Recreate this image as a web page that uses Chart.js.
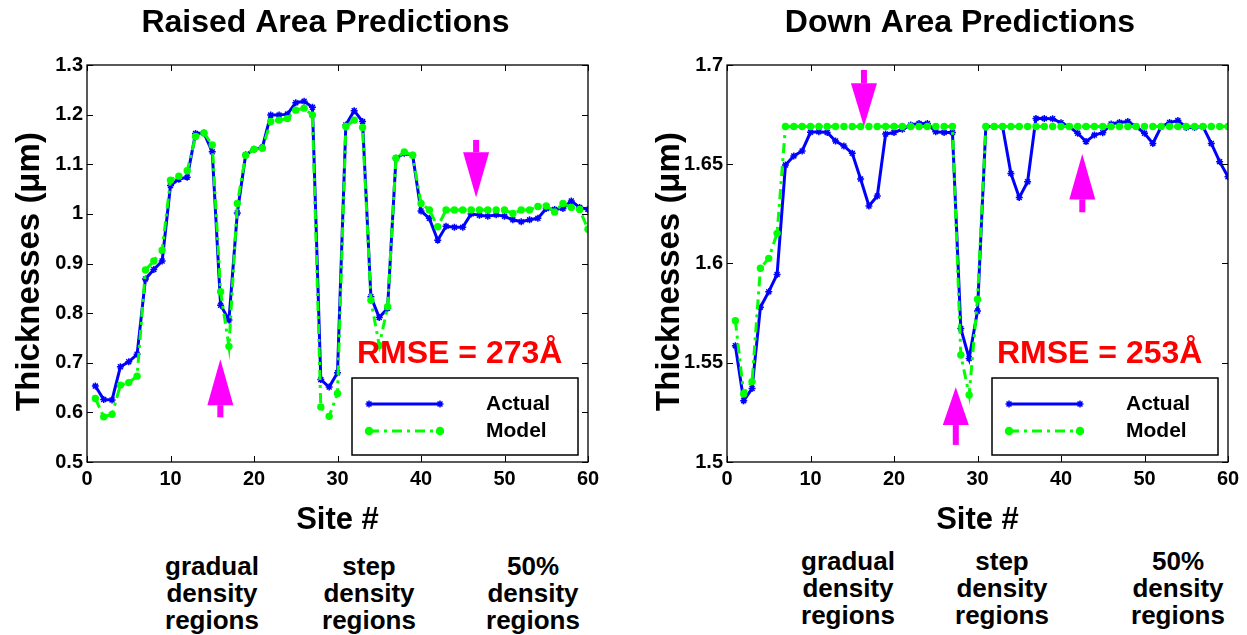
<!DOCTYPE html>
<html><head><meta charset="utf-8">
<script src="https://cdn.jsdelivr.net/npm/chart.js@4.4.0/dist/chart.umd.min.js"></script>
<style>
html,body{margin:0;padding:0;background:#fff;overflow:hidden;width:1247px;height:635px;}
#c1{position:absolute;left:0;top:0;}
#c2{position:absolute;left:640px;top:0;}
.reg{position:absolute;font:bold 26px "Liberation Sans",Arial,sans-serif;text-align:center;line-height:27px;width:170px;color:#000;}
</style></head><body>
<canvas id="c1" width="651" height="545" style="width:651px;height:545px"></canvas>
<canvas id="c2" width="640" height="545" style="width:640px;height:545px"></canvas>
<div class="reg" style="left:127px;top:553px">gradual<br>density<br>regions</div>
<div class="reg" style="left:284px;top:553px">step<br>density<br>regions</div>
<div class="reg" style="left:448px;top:553px">50%<br>density<br>regions</div>
<div class="reg" style="left:763px;top:548px">gradual<br>density<br>regions</div>
<div class="reg" style="left:917px;top:548px">step<br>density<br>regions</div>
<div class="reg" style="left:1093px;top:548px">50%<br>density<br>regions</div>
<script>
// ---------- DATA ----------
const sites = [1,2,3,4,5,6,7,8,9,10,11,12,13,14,15,16,17,18,19,20,21,22,23,24,25,26,27,28,29,30,
               31,32,33,34,35,36,37,38,39,40,41,42,43,44,45,46,47,48,49,50,51,52,53,54,55,56,57,58,59,60];

const raisedActual = [0.653,0.626,0.625,0.692,0.702,0.717,0.869,0.888,0.905,1.057,
                      1.070,1.074,1.162,1.163,1.125,0.816,0.786,1.002,1.119,1.130,
                      1.134,1.199,1.199,1.201,1.224,1.227,1.215,0.666,0.651,0.680,
                      1.179,1.208,1.186,0.833,0.791,0.810,1.112,1.122,1.118,1.006,
                      0.991,0.947,0.975,0.973,0.973,1.000,0.997,0.995,0.998,0.995,
                      0.988,0.984,0.988,0.991,1.011,1.009,1.011,1.026,1.013,1.009];
const raisedModel  = [0.628,0.591,0.596,0.655,0.660,0.673,0.887,0.905,0.927,1.068,
                      1.076,1.087,1.156,1.163,1.139,0.843,0.733,1.021,1.118,1.130,
                      1.132,1.186,1.189,1.192,1.209,1.213,1.199,0.611,0.592,0.638,
                      1.176,1.189,1.174,0.826,0.735,0.813,1.112,1.125,1.118,1.021,
                      1.008,0.974,1.008,1.008,1.008,1.008,1.008,1.008,1.008,1.008,
                      1.001,1.008,1.008,1.015,1.016,1.004,1.021,1.013,1.009,0.969];

const downActual = [1.5586,1.5309,1.5370,1.5780,1.5858,1.5945,1.6496,1.6542,1.6567,1.6661,
                    1.6664,1.6660,1.6617,1.6592,1.6555,1.6426,1.6290,1.6340,1.6652,1.6660,
                    1.6676,1.6698,1.6705,1.6705,1.6664,1.6660,1.6660,1.5673,1.5522,1.5761,
                    1.6690,1.6690,1.6690,1.6454,1.6332,1.6412,1.6731,1.6730,1.6729,1.6709,
                    1.6690,1.6656,1.6614,1.6647,1.6659,1.6703,1.6710,1.6715,1.6690,1.6656,
                    1.6605,1.6690,1.6710,1.6720,1.6685,1.6685,1.6690,1.6605,1.6513,1.6437];
const downModel  = [1.5712,1.5343,1.5405,1.5976,1.6026,1.6152,1.669,1.669,1.669,1.669,
                    1.669,1.669,1.669,1.669,1.669,1.669,1.669,1.669,1.669,1.669,
                    1.669,1.669,1.669,1.669,1.669,1.669,1.669,1.5539,1.5338,1.5820,
                    1.669,1.669,1.669,1.669,1.669,1.669,1.669,1.669,1.669,1.669,
                    1.669,1.669,1.669,1.669,1.669,1.669,1.669,1.669,1.669,1.669,
                    1.669,1.669,1.669,1.669,1.669,1.669,1.669,1.669,1.669,1.669];

const xTickValues = [0,10,20,30,40,50,60];
const xTickLabels = ['0','10','20','30','40','50','60'];
const raisedYTickValues = [0.5,0.6,0.7,0.8,0.9,1.0,1.1,1.2,1.3];
const raisedYTickLabels = ['0.5','0.6','0.7','0.8','0.9','1','1.1','1.2','1.3'];
const downYTickValues = [1.5,1.55,1.6,1.65,1.7];
const downYTickLabels = ['1.5','1.55','1.6','1.65','1.7'];

// arrows: [site, tip value, head-base value, tail value]
const raisedArrows = [[15.97,0.707,0.6145,0.590],[46.6,1.033,1.124,1.149]];
const downArrows   = [[16.4,1.669,1.6908,1.6975],[27.4,1.5376,1.5186,1.5086],[42.55,1.6552,1.6323,1.6258]];

const raisedTitle = 'Raised Area Predictions';
const downTitle = 'Down Area Predictions';
const yAxisTitle = 'Thicknesses (μm)';
const xAxisTitle = 'Site #';
const raisedRMSE = 'RMSE = 273Å';
const downRMSE = 'RMSE = 253Å';
const seriesNames = ['Actual','Model'];

// ---------- RENDER ----------
const FONT = '"Liberation Sans", Arial, Helvetica, sans-serif';
Chart.defaults.font.family = FONT;
const BLUE = '#0000ff', GREEN = '#00ff00', MAGENTA = '#ff00ff';
const DASH = [10,5,3,5];

const decor = {
  id: 'decor',
  afterDraw(chart, args, o) {
    const {ctx, chartArea: a, scales: {x, y}} = chart;
    ctx.save();
    // y-axis title
    ctx.save();
    ctx.translate(30, (a.top + a.bottom) / 2 + 8);
    ctx.rotate(-Math.PI / 2);
    ctx.fillStyle = '#000'; ctx.font = 'bold 33px ' + FONT;
    ctx.textAlign = 'center'; ctx.textBaseline = 'middle';
    ctx.fillText(yAxisTitle, 0, 0);
    ctx.restore();
    // arrows
    ctx.fillStyle = MAGENTA;
    o.arrows.forEach(([s, tip, base, tail]) => {
      const px = x.getPixelForValue(s);
      const ty = y.getPixelForValue(tip), by = y.getPixelForValue(base), ly = y.getPixelForValue(tail);
      ctx.beginPath();
      ctx.moveTo(px - 13, by); ctx.lineTo(px + 13, by); ctx.lineTo(px, ty); ctx.closePath(); ctx.fill();
      ctx.fillRect(px - 3, Math.min(by, ly), 6, Math.abs(ly - by));
    });
    // box + inward ticks
    ctx.strokeStyle = '#000'; ctx.lineWidth = 1.3;
    ctx.strokeRect(a.left, a.top, a.right - a.left, a.bottom - a.top);
    ctx.lineWidth = 1;
    ctx.beginPath();
    y.ticks.forEach(t => {
      const py = Math.round(y.getPixelForValue(t.value)) + 0.5;
      ctx.moveTo(a.left, py); ctx.lineTo(a.left + 6, py);
      ctx.moveTo(a.right - 6, py); ctx.lineTo(a.right, py);
    });
    x.ticks.forEach(t => {
      const px = Math.round(x.getPixelForValue(t.value)) + 0.5;
      ctx.moveTo(px, a.bottom); ctx.lineTo(px, a.bottom - 6);
      ctx.moveTo(px, a.top); ctx.lineTo(px, a.top + 6);
    });
    ctx.stroke();
    // RMSE
    ctx.fillStyle = '#ff0000';
    ctx.font = 'bold 32px ' + FONT;
    ctx.textBaseline = 'middle'; ctx.textAlign = 'left';
    ctx.fillText(o.rmse, a.left + 270, a.top + 289);
    // legend
    const bx = a.right - 236, by0 = a.bottom - 84, bw = 226, bh = 77;
    ctx.fillStyle = '#fff'; ctx.fillRect(bx, by0, bw, bh);
    ctx.strokeStyle = '#000'; ctx.lineWidth = 1.5; ctx.strokeRect(bx, by0, bw, bh);
    const rows = [[BLUE, [], 'star', 26], [GREEN, DASH, 'circle', 53]];
    rows.forEach(([c, dash, ps, dy], i) => {
      const yy = by0 + dy;
      ctx.strokeStyle = c; ctx.fillStyle = c; ctx.lineWidth = 3; ctx.setLineDash(dash);
      ctx.beginPath(); ctx.moveTo(bx + 17, yy); ctx.lineTo(bx + 88, yy); ctx.stroke();
      ctx.setLineDash([]); ctx.lineWidth = 1.5;
      [bx + 17, bx + 88].forEach(px => Chart.helpers.drawPoint(ctx, {pointStyle: ps, radius: 3.5, rotation: 0, borderWidth: 1.5}, px, yy));
      ctx.fillStyle = '#000'; ctx.font = 'bold 21px ' + FONT; ctx.textAlign = 'left';
      ctx.fillText(seriesNames[i], bx + 134, yy);
    });
    ctx.restore();
  }
};

function makeChart(id, title, actual, model, yMin, yMax, yVals, yLabels, rmse, arrows, padRight) {
  new Chart(document.getElementById(id), {
    type: 'line',
    data: {
      datasets: [
        {label: seriesNames[0], data: sites.map((s, i) => ({x: s, y: actual[i]})),
         borderColor: BLUE, backgroundColor: BLUE, borderWidth: 3, tension: 0,
         pointStyle: 'star', pointRadius: 3.5, pointBorderWidth: 1.5, pointBorderColor: BLUE, order: 1},
        {label: seriesNames[1], data: sites.map((s, i) => ({x: s, y: model[i]})),
         borderColor: GREEN, backgroundColor: GREEN, borderWidth: 3, borderDash: DASH, tension: 0,
         pointStyle: 'circle', pointRadius: 3.7, pointBorderWidth: 0, order: 0}
      ]
    },
    options: {
      responsive: false, animation: false, devicePixelRatio: 1,
      layout: {padding: 0},
      plugins: {
        legend: {display: false}, tooltip: {enabled: false},
        title: {display: true, text: title, color: '#000', font: {size: 32, weight: 'bold'}, padding: {top: 4, bottom: 22.6}},
        decor: {rmse: rmse, arrows: arrows}
      },
      scales: {
        x: {type: 'linear', min: 0, max: 60,
            afterBuildTicks: s => { s.ticks = xTickValues.map(v => ({value: v})); },
            afterFit: s => { s.height = 83; },
            ticks: {callback: (v, i) => xTickLabels[i], color: '#000', font: {size: 20, weight: 'bold'}, padding: 5, maxRotation: 0},
            grid: {display: false, drawTicks: false}, border: {display: false},
            title: {display: true, text: xAxisTitle, color: '#000', font: {size: 31, weight: 'bold'}, padding: {top: 0, bottom: 6}}},
        y: {type: 'linear', min: yMin, max: yMax,
            afterBuildTicks: s => { s.ticks = yVals.map(v => ({value: v})); },
            afterFit: s => { s.width = 87; },
            ticks: {callback: (v, i) => yLabels[i], color: '#000', font: {size: 20, weight: 'bold'}, padding: 4},
            grid: {display: false, drawTicks: false}, border: {display: false},
            title: {display: false}},
        yR: {type: 'linear', position: 'right', min: yMin, max: yMax, display: true,
             afterFit: s => { s.width = padRight; },
             ticks: {display: false}, grid: {display: false, drawTicks: false}, border: {display: false}}
      }
    },
    plugins: [decor]
  });
}

makeChart('c1', raisedTitle, raisedActual, raisedModel, 0.5, 1.3, raisedYTickValues, raisedYTickLabels, raisedRMSE, raisedArrows, 63);
makeChart('c2', downTitle, downActual, downModel, 1.5, 1.7, downYTickValues, downYTickLabels, downRMSE, downArrows, 52);
</script>
</body></html>
